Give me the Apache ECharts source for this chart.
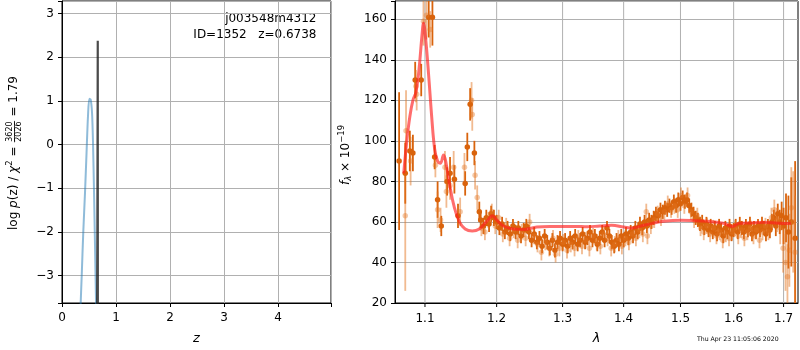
<!DOCTYPE html>
<html>
<head>
<meta charset="utf-8">
<script src="https://cdn.jsdelivr.net/npm/echarts@6/dist/echarts.min.js"></script>
<style>
  html, body { margin: 0; padding: 0; background: #fff; }
  #chart { width: 800px; height: 350px; }
</style>
</head>
<body>
<div id="chart"></div>
<script>
// ---- left panel: log p(z) ----
const pzZ = [0.335, 0.346, 0.365, 0.394, 0.426, 0.457, 0.481, 0.506, 0.531, 0.556, 0.574, 0.593, 0.611, 0.630, 0.636];
const pzLog = [-4.2, -3.63, -3.0, -2.0, -1.1, -0.1, 0.65, 1.05, 1.03, 0.73, 0.05, -1.1, -2.3, -3.63, -4.2];
const bestZ = [0.650, 0.655, 0.662, 0.664];
const bestLog = [-3.8, -1.8, 2.38, -3.8];
const zTicks = [0, 1, 2, 3, 4];

// ---- right panel: spectrum, first grism (dark) ----
const lamA = [
  1.066, 1.074, 1.080, 1.084, 1.087, 1.095, 1.105, 1.110, 1.113, 1.117,
  1.122, 1.130, 1.134, 1.140, 1.145, 1.155, 1.158, 1.162, 1.168, 1.175, 1.177,
  1.181, 1.185, 1.189, 1.192, 1.196, 1.200, 1.204, 1.208, 1.212, 1.216,
  1.220, 1.224, 1.228, 1.232, 1.236, 1.240, 1.244, 1.248, 1.252, 1.256,
  1.260, 1.264, 1.268, 1.272, 1.276, 1.280, 1.284, 1.288, 1.292, 1.296,
  1.300, 1.304, 1.308, 1.312, 1.316, 1.320, 1.324, 1.328, 1.332, 1.336,
  1.340, 1.344, 1.348, 1.352, 1.356, 1.360, 1.364, 1.368, 1.372, 1.376,
  1.380, 1.384, 1.388, 1.392, 1.396, 1.400, 1.404, 1.408, 1.412, 1.416,
  1.420, 1.424, 1.428, 1.432, 1.436, 1.440, 1.444, 1.448, 1.452, 1.456,
  1.460, 1.464, 1.468, 1.472, 1.476, 1.480, 1.484, 1.488, 1.492, 1.496,
  1.500, 1.504, 1.508, 1.512, 1.516, 1.520, 1.524, 1.528, 1.532, 1.536,
  1.540, 1.544, 1.548, 1.552, 1.556, 1.560, 1.564, 1.568, 1.572, 1.576,
  1.580, 1.584, 1.588, 1.592, 1.596, 1.600, 1.604, 1.608, 1.612, 1.616,
  1.620, 1.624, 1.628, 1.632, 1.636, 1.640, 1.644, 1.648, 1.652, 1.656,
  1.660, 1.664, 1.668, 1.672, 1.676, 1.680, 1.684, 1.688, 1.692, 1.696,
  1.700, 1.705, 1.710, 1.716, 1.724
];
const fluxA = [
  90, 84, 95, 94, 130, 130, 161, 161, 92, 71,
  58, 80, 84, 81, 63, 79, 97, 118, 94, 65, 61,
  58, 62, 59, 64, 62, 60, 57, 59, 55, 57,
  54, 58, 55, 57, 53, 56, 58, 55, 51, 54,
  50, 52, 48, 53, 50, 47, 51, 46, 50, 52,
  49, 51, 48, 52, 50, 53, 49, 51, 54, 50,
  52, 55, 51, 53, 49, 52, 55, 51, 57, 53,
  50, 48, 51, 49, 53, 51, 54, 52, 55, 53,
  57, 55, 59, 57, 60, 58, 61, 60, 62, 64,
  63, 66, 65, 67, 66, 68, 67, 70, 68, 71,
  69, 72, 70, 71, 68, 66, 64, 62, 61, 59,
  60, 57, 59, 56, 58, 55, 57, 54, 58, 56,
  53, 57, 55, 58, 54, 56, 58, 55, 59, 57,
  55, 58, 56, 59, 54, 57, 55, 58, 56, 59,
  57, 54, 58, 56, 60, 62, 58, 64, 60, 63,
  58, 62, 55, 60, 52
];
const errA = [
  34, 15, 10, 9, 9, 8, 10, 14, 6, 9,
  5, 7, 8, 7, 6, 6, 7, 8, 6, 5, 4,
  4, 4, 4, 4, 4, 3.5, 3.5, 3.5, 3.5, 3.5,
  3.5, 3.5, 3.5, 3.5, 3.5, 3.5, 3.5, 3.5, 3.5, 3.5,
  3.5, 3.5, 3.5, 3.5, 3.5, 3.5, 3.5, 3.5, 3.5, 3.5,
  3.5, 3.5, 3.5, 3.5, 3.5, 3.5, 3.5, 3.5, 3.5, 3.5,
  3.5, 3.5, 3.5, 3.5, 3.5, 3.5, 3.5, 3.5, 3.5, 3.5,
  3.5, 3.5, 3.5, 3.5, 3.5, 3.5, 3.5, 3.5, 3.5, 3.5,
  3.5, 3.5, 3.5, 3.5, 3.5, 3.5, 3.5, 3.5, 3.5, 3.5,
  3.5, 3.5, 3.5, 3.5, 3.5, 3.5, 3.5, 3.5, 3.5, 3.5,
  3.5, 3.5, 3.5, 3.5, 3.5, 3.5, 3.5, 3.5, 3.5, 3.5,
  3.5, 3.5, 3.5, 3.5, 3.5, 3.5, 3.5, 3.5, 3.5, 3.5,
  3.5, 3.5, 3.5, 3.5, 3.5, 3.5, 3.5, 3.5, 3.5, 3.5,
  3.5, 3.5, 3.5, 3.5, 3.5, 3.5, 3.5, 3.5, 3.5, 3.5,
  3.5, 3.5, 3.5, 4, 4, 4, 5, 5, 6, 7,
  9, 12, 18, 22, 38
];

// ---- second grism (light) ----
const lamB = [
  1.074, 1.075, 1.081, 1.088, 1.089, 1.098, 1.102, 1.107, 1.114, 1.117,
  1.121, 1.127, 1.129, 1.134, 1.139, 1.148, 1.154, 1.164, 1.165, 1.169, 1.172,
  1.178, 1.183, 1.188, 1.193, 1.198, 1.203, 1.209, 1.214, 1.219, 1.225,
  1.231, 1.237, 1.243, 1.249, 1.255, 1.261, 1.267, 1.273, 1.279, 1.285,
  1.289, 1.295, 1.301, 1.307, 1.313, 1.319, 1.325, 1.331, 1.337, 1.343,
  1.349, 1.355, 1.361, 1.367, 1.373, 1.379, 1.385, 1.391, 1.397, 1.403,
  1.409, 1.415, 1.421, 1.427, 1.433, 1.439, 1.441, 1.447, 1.453, 1.459,
  1.465, 1.471, 1.477, 1.483, 1.489, 1.495, 1.501, 1.507, 1.513, 1.519,
  1.525, 1.531, 1.537, 1.543, 1.549, 1.555, 1.561, 1.567, 1.573, 1.579,
  1.585, 1.591, 1.597, 1.603, 1.609, 1.615, 1.621, 1.627, 1.633, 1.639,
  1.645, 1.651, 1.657, 1.663, 1.669, 1.675, 1.681, 1.687, 1.693, 1.699,
  1.704, 1.708, 1.712, 1.716, 1.720, 1.724
];
const fluxB = [
  63, 105, 90, 127, 123, 159, 162, 155, 88, 66,
  61, 87, 75, 78, 87, 65, 87, 120, 113, 83, 72,
  57, 55, 61, 65, 58, 62, 54, 58, 52, 56,
  51, 55, 52, 60, 53, 49, 45, 50, 47, 52,
  44, 47, 50, 46, 49, 47, 52, 48, 51, 47,
  53, 50, 48, 54, 52, 47, 49, 52, 48, 52,
  50, 54, 52, 56, 54, 65, 53, 58, 61, 64,
  62, 65, 69, 66, 68, 66, 73, 68, 73, 65,
  61, 63, 57, 55, 58, 54, 57, 53, 55, 51,
  54, 52, 55, 57, 53, 56, 52, 55, 57, 53,
  56, 51, 55, 58, 55, 62, 66, 61, 57, 47,
  40, 33, 46, 67, 60, 45
];
const errB = [
  37, 20, 12, 8, 8, 12, 12, 9, 6, 9,
  6, 8, 8, 7, 8, 7, 7, 9, 8, 7, 6,
  4, 4, 4, 4, 4, 4, 4, 4, 4, 4,
  4, 4, 4, 4, 4, 4, 4, 4, 4, 4,
  4, 4, 4, 4, 4, 4, 4, 4, 4, 4,
  4, 4, 4, 4, 4, 4, 4, 4, 4, 4,
  4, 4, 4, 4, 4, 4, 4, 4, 4, 4,
  4, 4, 4, 4, 4, 4, 4, 4, 4, 4,
  4, 4, 4, 4, 4, 4, 4, 4, 4, 4,
  4, 4, 4, 4, 4, 4, 4, 4, 4, 4,
  4, 4, 4, 4, 4, 5, 5, 6, 8, 12,
  14, 16, 18, 20, 25, 28
];

// ---- model ----
const modelLam = [
  1.072, 1.076, 1.080, 1.084, 1.088, 1.092, 1.096, 1.098, 1.101, 1.105,
  1.109, 1.113, 1.117, 1.121, 1.125, 1.128, 1.133, 1.140, 1.147, 1.155,
  1.165, 1.175, 1.185, 1.194, 1.200, 1.210, 1.225, 1.240, 1.260, 1.280,
  1.300, 1.320, 1.340, 1.360, 1.380, 1.400, 1.415, 1.430, 1.450, 1.470,
  1.500, 1.520, 1.550, 1.580, 1.598, 1.610, 1.630, 1.660, 1.690, 1.715
];
const modelFlux = [
  84, 100, 112, 120, 124, 135, 152, 158, 150, 132,
  112, 96, 90, 89, 93, 90, 79, 67, 60, 56.5,
  55.5, 56.5, 60, 63, 61, 58, 56.5, 56.3, 57.5, 57.8,
  57.8, 57.8, 57.6, 58, 58.3, 57.5, 57, 58, 59.3, 60.3,
  60.8, 60.7, 60.3, 59.3, 57.8, 59.2, 59.5, 59.8, 59.3, 59.2
];
const lamTicks = [1.1, 1.2, 1.3, 1.4, 1.5, 1.6, 1.7];
const lamMin = 1.0607, lamMax = 1.7300;
const fluxMin = 20, fluxMax = 169;

const FONT = '"DejaVu Sans"';
const zip = (xs, ys, es) => xs.map((x, i) => es ? [x, ys[i], es[i]] : [x, ys[i]]);
const minus = v => (v < 0 ? '\u2212' + (-v) : '' + v);

// measure text for the hand-built rotated axis titles
const mctx = document.createElement('canvas').getContext('2d');
function fontStr(size, it) { return (it ? 'italic ' : '') + size + 'px ' + FONT; }
function tw(t, size, it) { mctx.font = fontStr(size, it); return mctx.measureText(t).width; }
function vLabel(cx, cy, parts) {
  let w = 0;
  parts.forEach(p => {
    p.size = p.size || 12;
    p.w = p.frac ? Math.max(tw(p.frac[0], p.size), tw(p.frac[1], p.size)) + 2 : tw(p.t, p.size, p.it);
    w += p.w;
  });
  let x = -w / 2;
  const kids = [];
  parts.forEach(p => {
    if (p.frac) {
      kids.push({ type: 'text', x: x + p.w / 2, y: -4.5, style: { text: p.frac[0], font: fontStr(p.size), fill: '#000', align: 'center', verticalAlign: 'middle' } });
      kids.push({ type: 'text', x: x + p.w / 2, y: 5, style: { text: p.frac[1], font: fontStr(p.size), fill: '#000', align: 'center', verticalAlign: 'middle' } });
      kids.push({ type: 'line', shape: { x1: x + 0.5, y1: 0.5, x2: x + p.w - 0.5, y2: 0.5 }, style: { stroke: '#000', lineWidth: 0.8 } });
    } else {
      kids.push({ type: 'text', x: x, y: p.dy || 0, style: { text: p.t, font: fontStr(p.size, p.it), fill: '#000', align: 'left', verticalAlign: 'middle' } });
    }
    x += p.w;
  });
  return { type: 'group', x: cx, y: cy, rotation: Math.PI / 2, children: kids };
}

function errBars(color) {
  return function (params, api) {
    const x = api.value(0), y = api.value(1), e = api.value(2);
    const p1 = api.coord([x, y - e]);
    const p2 = api.coord([x, y + e]);
    return { type: 'line', shape: { x1: p1[0], y1: p1[1], x2: p2[0], y2: p2[1] }, style: { stroke: color, lineWidth: 1.8 } };
  };
}

// fresh axis styling objects for every axis
function axisStyle(extra) {
  return Object.assign({
    axisLine: { show: true, onZero: false, lineStyle: { color: '#000', width: 1 } },
    axisTick: { show: true, length: 4, lineStyle: { color: '#000' } },
    splitLine: { show: true, lineStyle: { color: '#b0b0b0', width: 1 } }
  }, extra);
}

const darkCol = '#d9630c';
const lightCol = 'rgba(228,118,34,0.5)';

const chart = echarts.init(document.getElementById('chart'));
chart.setOption({
  animation: false,
  textStyle: { fontFamily: FONT },
  grid: [
    { left: 62, top: 1, width: 269, height: 303, show: true, borderColor: '#000', borderWidth: 1 },
    { left: 395, top: 1, width: 403, height: 303, show: true, borderColor: '#000', borderWidth: 1 }
  ],
  xAxis: [
    axisStyle({
      gridIndex: 0, type: 'value', min: 0, max: 4.98, interval: 1,
      name: 'z', nameLocation: 'middle', nameGap: 29,
      nameTextStyle: { fontStyle: 'italic', fontSize: 13, color: '#000', fontFamily: FONT },
      axisLabel: { color: '#000', fontSize: 12, margin: 9, fontFamily: FONT,
        formatter: v => (zTicks.indexOf(v) >= 0 ? minus(v) : '') }
    }),
    {
      gridIndex: 1, type: 'log', logBase: 10, min: lamMin, max: lamMax,
      name: '\u03bb', nameLocation: 'middle', nameGap: 29,
      nameTextStyle: { fontStyle: 'italic', fontSize: 13, color: '#000', fontFamily: FONT },
      axisLine: { show: true, onZero: false, lineStyle: { color: '#000' } },
      axisTick: { show: false }, axisLabel: { show: false },
      splitLine: { show: false }, minorTick: { show: false }
    }
  ],
  yAxis: [
    axisStyle({
      gridIndex: 0, type: 'value', min: -3.63, max: 3.29, splitNumber: 7,
      axisLabel: { color: '#000', fontSize: 12, margin: 8, fontFamily: FONT,
        formatter: v => (Number.isInteger(v) ? minus(v) : '') }
    }),
    axisStyle({
      gridIndex: 1, type: 'value', min: fluxMin, max: fluxMax, interval: 20,
      axisLabel: { color: '#000', fontSize: 12, margin: 8, fontFamily: FONT,
        formatter: v => (v % 20 === 0 ? '' + v : '') }
    })
  ],
  graphic: [
    vLabel(14, 153, [
      { t: 'log ' }, { t: 'p', it: true }, { t: '(z) / ' }, { t: '\u03c7', it: true },
      { t: '2', size: 8.5, dy: -4 }, { t: ' = ' }, { frac: ['3620', '2026'], size: 8 }, { t: ' = 1.79' }
    ]),
    vLabel(346, 155, [
      { t: 'f', it: true }, { t: '\u03bb', it: true, size: 8.5, dy: 3 }, { t: ' \u00d7 10' }, { t: '\u221219', size: 8.5, dy: -4 }
    ]),
    { type: 'text', x: 316.5, y: 19, style: { text: 'j003548m4312', font: fontStr(12), fill: '#000', align: 'right', verticalAlign: 'middle' } },
    { type: 'text', x: 316.5, y: 35, style: { text: 'ID=1352   z=0.6738', font: fontStr(12), fill: '#000', align: 'right', verticalAlign: 'middle' } },
    { type: 'text', x: 697, y: 339, style: { text: 'Thu Apr 23 11:05:06 2020', font: fontStr(6.2), fill: '#000', align: 'left', verticalAlign: 'middle' } }
  ],
  series: [
    {
      type: 'line', xAxisIndex: 0, yAxisIndex: 0, data: zip(pzZ, pzLog),
      smooth: 0.3, showSymbol: false, symbol: 'none', clip: true,
      lineStyle: { color: 'rgba(31,119,180,0.5)', width: 2 }
    },
    {
      type: 'line', xAxisIndex: 0, yAxisIndex: 0, data: zip(bestZ, bestLog),
      showSymbol: false, symbol: 'none', clip: true,
      lineStyle: { color: 'rgba(30,30,30,0.8)', width: 2.2 }
    },
    {
      // wavelength grid lines, ticks and labels placed through the log axis
      type: 'custom', xAxisIndex: 1, yAxisIndex: 1, z: 1, clip: false,
      data: lamTicks.map(v => [v, fluxMin]),
      renderItem: function (params, api) {
        const v = api.value(0);
        const b = api.coord([v, fluxMin]);
        const t = api.coord([v, fluxMax]);
        return { type: 'group', children: [
          { type: 'line', shape: { x1: b[0], y1: b[1], x2: t[0], y2: t[1] }, style: { stroke: '#b0b0b0', lineWidth: 1 } },
          { type: 'line', shape: { x1: b[0], y1: b[1], x2: b[0], y2: b[1] + 4 }, style: { stroke: '#000', lineWidth: 1 } },
          { type: 'text', x: b[0], y: b[1] + 16, style: { text: v.toFixed(1), font: fontStr(12), fill: '#000', align: 'center', verticalAlign: 'middle' } }
        ] };
      }
    },
    {
      type: 'custom', xAxisIndex: 1, yAxisIndex: 1, clip: true,
      data: zip(lamA, fluxA, errA), renderItem: errBars(darkCol)
    },
    {
      type: 'scatter', xAxisIndex: 1, yAxisIndex: 1, clip: true,
      data: zip(lamA, fluxA), symbolSize: 5.5, itemStyle: { color: darkCol, opacity: 1 }
    },
    {
      type: 'custom', xAxisIndex: 1, yAxisIndex: 1, clip: true,
      data: zip(lamB, fluxB, errB), renderItem: errBars(lightCol)
    },
    {
      type: 'scatter', xAxisIndex: 1, yAxisIndex: 1, clip: true,
      data: zip(lamB, fluxB), symbolSize: 5.5, itemStyle: { color: lightCol }
    },
    {
      type: 'line', xAxisIndex: 1, yAxisIndex: 1, data: zip(modelLam, modelFlux),
      smooth: 0.4, showSymbol: false, symbol: 'none', clip: true,
      lineStyle: { color: 'rgba(255,30,30,0.65)', width: 3 }
    }
  ]
});
</script>
</body>
</html>
